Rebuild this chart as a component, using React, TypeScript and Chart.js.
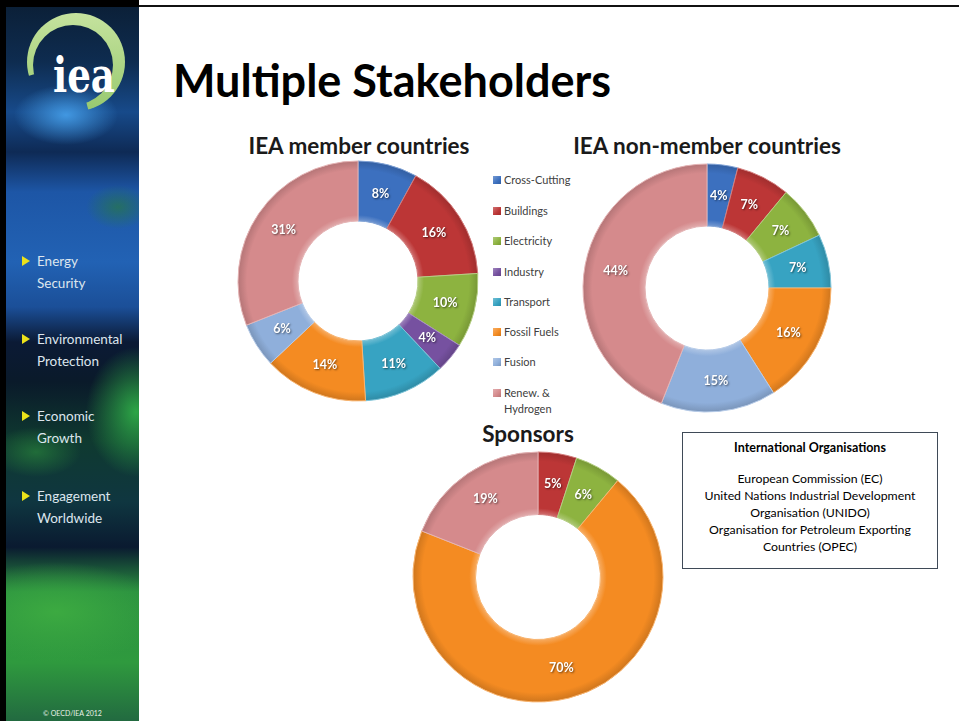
import React, { useEffect, useRef } from "react";
import { Chart, registerables } from "chart.js";
Chart.register(...registerables);

// ---------- data ----------
const categories = [
  "Cross-Cutting",
  "Buildings",
  "Electricity",
  "Industry",
  "Transport",
  "Fossil Fuels",
  "Fusion",
  "Renew. & Hydrogen",
];
const legendLines = [
  ["Cross-Cutting"],
  ["Buildings"],
  ["Electricity"],
  ["Industry"],
  ["Transport"],
  ["Fossil Fuels"],
  ["Fusion"],
  ["Renew. &", "Hydrogen"],
];
const categoryColors = [
  "#3c70bf",
  "#bc3636",
  "#8db340",
  "#7651a0",
  "#37a3c2",
  "#f48b22",
  "#8fafdb",
  "#d58a8c",
];
const memberValues = [8, 16, 10, 4, 11, 14, 6, 31];
const nonMemberValues = [4, 7, 7, 0, 7, 16, 15, 44];
const sponsorCategories = ["Buildings", "Electricity", "Fossil Fuels", "Renew. & Hydrogen"];
const sponsorValues = [5, 6, 70, 19];
const chartTitles = ["IEA member countries", "IEA non-member countries", "Sponsors"];
const slideTitle = "Multiple Stakeholders";
const sidebarItems = [
  ["Energy", "Security"],
  ["Environmental", "Protection"],
  ["Economic", "Growth"],
  ["Engagement", "Worldwide"],
];
const orgTitle = "International Organisations";
const orgLines = [
  "European Commission (EC)",
  "United Nations Industrial Development",
  "Organisation (UNIDO)",
  "Organisation for Petroleum Exporting",
  "Countries (OPEC)",
];
const copyright = "© OECD/IEA 2012";

// ---------- helpers ----------
function hexToRgb(h: string) {
  const n = parseInt(h.slice(1), 16);
  return [(n >> 16) & 255, (n >> 8) & 255, n & 255];
}
function mix(a: string, b: string, t: number) {
  const A = hexToRgb(a);
  const B = hexToRgb(b);
  const c = A.map((v, i) => Math.round(v + (B[i] - v) * t));
  return `rgb(${c[0]},${c[1]},${c[2]})`;
}

const labelPlugin = {
  id: "pctLabels",
  afterDatasetsDraw(chart: any) {
    const ctx = chart.ctx;
    const meta = chart.getDatasetMeta(0);
    const data = chart.data.datasets[0].data as number[];
    ctx.save();
    ctx.font = "bold 12.5px Lato";
    ctx.fillStyle = "#ffffff";
    ctx.textAlign = "center";
    ctx.textBaseline = "middle";
    ctx.shadowColor = "rgba(0,0,0,0.55)";
    ctx.shadowBlur = 2;
    ctx.shadowOffsetX = 1;
    ctx.shadowOffsetY = 1;
    meta.data.forEach((arc: any, i: number) => {
      const v = data[i];
      if (!v) return;
      const p = arc.tooltipPosition(false);
      ctx.fillText(v + "%", p.x, p.y);
    });
    ctx.restore();
  },
};

function Donut(props: { labels: string[]; values: number[]; cx: number; cy: number; r: number }) {
  const { labels, values, cx, cy, r } = props;
  const ref = useRef<HTMLCanvasElement>(null);
  const size = Math.ceil(r * 2 + 6);
  useEffect(() => {
    const colors = labels.map((l) => categoryColors[categories.indexOf(l)]);
    const chart = new Chart(ref.current as HTMLCanvasElement, {
      type: "doughnut",
      data: {
        labels,
        datasets: [
          {
            data: values,
            backgroundColor: (c: any) => {
              const base = colors[c.dataIndex];
              const area = c.chart.chartArea;
              if (!area) return base;
              const x = (area.left + area.right) / 2;
              const y = (area.top + area.bottom) / 2;
              const g = c.chart.ctx.createRadialGradient(x, y, r * 0.5, x, y, r);
              g.addColorStop(0, mix(base, "#ffffff", 0.28));
              g.addColorStop(0.1, base);
              g.addColorStop(0.85, base);
              g.addColorStop(1, mix(base, "#000000", 0.15));
              return g;
            },
            borderColor: colors.map((c) => mix(c, "#ffffff", 0.35)),
            borderWidth: values.map((v) => (v > 0 ? 1 : 0)),
          },
        ],
      },
      options: {
        responsive: false,
        animation: false,
        radius: r,
        cutout: "50%",
        events: [],
        layout: { padding: 0 },
        plugins: { legend: { display: false }, tooltip: { enabled: false } },
      } as any,
      plugins: [labelPlugin],
    });
    return () => chart.destroy();
  }, []);
  return (
    <canvas
      ref={ref}
      width={size}
      height={size}
      style={{ position: "absolute", left: cx - size / 2, top: cy - size / 2, width: size, height: size }}
    />
  );
}

const sidebarBg = [
  "radial-gradient(ellipse 52px 30px at 60px 108px, rgba(70,160,235,0.9), rgba(70,160,235,0))",
  "radial-gradient(ellipse 32px 22px at 112px 200px, rgba(40,120,70,0.7), rgba(40,120,70,0))",
  "radial-gradient(ellipse 50px 65px at 130px 405px, rgba(45,165,70,1), rgba(45,165,70,0))",
  "radial-gradient(ellipse 45px 25px at 30px 445px, rgba(40,130,60,0.7), rgba(40,130,60,0))",
  "radial-gradient(ellipse 110px 50px at 50px 605px, rgba(60,170,65,1), rgba(60,170,65,0))",
  "linear-gradient(180deg, #0b2038 0px, #0e2c50 55px, #174a8a 105px, #0e2a55 145px, #1d56a6 185px, #2262b4 255px, #1b4f98 300px, #0b1a35 335px, #0a1a2a 375px, #0f3a30 435px, #0f3640 495px, #0a1a30 540px, #2a9040 585px, #2f9a3e 655px, #226a40 714px)",
].join(",");

export default function App() {
  const font = "Lato, 'Open Sans', sans-serif";
  const legendY = [180, 211, 241, 272, 302, 332, 362, 393];
  const sideY = [261, 339, 416, 496];
  return (
    <div
      style={{
        position: "absolute",
        left: 0,
        top: 0,
        width: 959,
        height: 721,
        background: "#ffffff",
        overflow: "hidden",
        fontFamily: font,
      }}
    >
      {/* frame */}
      <div style={{ position: "absolute", left: 139, top: 5, width: 820, height: 2, background: "#111" }} />
      <div style={{ position: "absolute", left: 6, top: 7, width: 133, height: 714, background: sidebarBg }} />
      <div style={{ position: "absolute", left: 0, top: 0, width: 6, height: 721, background: "#000" }} />
      <div style={{ position: "absolute", left: 0, top: 0, width: 139, height: 7, background: "#000" }} />

      {/* logo */}
      <svg width={139} height={130} style={{ position: "absolute", left: 0, top: 0 }}>
        <defs>
          <linearGradient id="ringG" x1="0" y1="0" x2="0" y2="1">
            <stop offset="0" stopColor="#cbe6a4" />
            <stop offset="1" stopColor="#8fc466" />
          </linearGradient>
          <mask id="ringM">
            <circle cx={76} cy={62} r={49} fill="#fff" />
            <circle cx={73} cy={65} r={40} fill="#000" />
            <polygon points="76,62 96,140 -20,90" fill="#000" />
          </mask>
        </defs>
        <rect x={0} y={0} width={139} height={130} fill="url(#ringG)" mask="url(#ringM)" />
        <text
          x={84}
          y={92}
          textAnchor="middle"
          fontFamily="'DejaVu Serif', serif"
          fontWeight="bold"
          fontSize={48}
          fill="#ffffff"
          textLength={62}
          lengthAdjust="spacingAndGlyphs"
        >
          iea
        </text>
      </svg>

      {/* sidebar items */}
      {sidebarItems.map((lines, i) => (
        <React.Fragment key={i}>
          <div
            style={{
              position: "absolute",
              left: 22,
              top: sideY[i] - 5,
              width: 0,
              height: 0,
              borderLeft: "8px solid #ece21a",
              borderTop: "5px solid transparent",
              borderBottom: "5px solid transparent",
            }}
          />
          {lines.map((t, j) => (
            <div
              key={j}
              style={{
                position: "absolute",
                left: 37,
                top: sideY[i] + j * 22 - 9,
                height: 18,
                lineHeight: "18px",
                fontSize: 13.5,
                color: "#dde6ee",
                whiteSpace: "nowrap",
              }}
            >
              {t}
            </div>
          ))}
        </React.Fragment>
      ))}
      <div
        style={{
          position: "absolute",
          left: 6,
          width: 133,
          top: 708,
          textAlign: "center",
          fontSize: 7,
          lineHeight: "10px",
          color: "#e8f0e8",
        }}
      >
        {copyright}
      </div>

      {/* slide title */}
      <div
        style={{
          position: "absolute",
          left: 173,
          top: 53,
          fontSize: 45,
          lineHeight: "54px",
          fontWeight: 700,
          color: "#000",
          whiteSpace: "nowrap",
        }}
      >
        {slideTitle}
      </div>

      {/* chart titles */}
      {[
        [359, 147],
        [707, 147],
        [528, 435],
      ].map(([x, y], i) => (
        <div
          key={i}
          style={{
            position: "absolute",
            left: x - 200,
            width: 400,
            top: y - 14,
            height: 26,
            lineHeight: "26px",
            textAlign: "center",
            fontSize: 22.5,
            fontWeight: 700,
            color: "#1a1a1a",
            whiteSpace: "nowrap",
          }}
        >
          {chartTitles[i]}
        </div>
      ))}

      <Donut labels={categories} values={memberValues} cx={358} cy={281} r={120} />
      <Donut labels={categories} values={nonMemberValues} cx={707} cy={288} r={124} />
      <Donut labels={sponsorCategories} values={sponsorValues} cx={538} cy={577} r={125} />

      {/* legend */}
      {legendLines.map((lines, i) => (
        <React.Fragment key={i}>
          <div
            style={{
              position: "absolute",
              left: 493,
              top: legendY[i] - 4,
              width: 8,
              height: 8,
              background: `linear-gradient(135deg, ${mix(categoryColors[i], "#ffffff", 0.3)}, ${categoryColors[i]} 60%, ${mix(
                categoryColors[i],
                "#000000",
                0.15
              )})`,
            }}
          />
          {lines.map((t, j) => (
            <div
              key={j}
              style={{
                position: "absolute",
                left: 504,
                top: legendY[i] + j * 16 - 8,
                height: 16,
                lineHeight: "16px",
                fontSize: 11,
                color: "#404040",
                whiteSpace: "nowrap",
              }}
            >
              {t}
            </div>
          ))}
        </React.Fragment>
      ))}

      {/* organisations box */}
      <div
        style={{
          position: "absolute",
          left: 682,
          top: 432,
          width: 254,
          height: 129,
          border: "1px solid #3f4a57",
          textAlign: "center",
          fontSize: 12.3,
          color: "#000",
          paddingTop: 6,
          boxSizing: "content-box",
        }}
      >
        <div style={{ fontWeight: 700, fontSize: 12.5, lineHeight: "17px", marginBottom: 14 }}>{orgTitle}</div>
        {orgLines.map((t, i) => (
          <div key={i} style={{ lineHeight: "17px", whiteSpace: "nowrap" }}>
            {t}
          </div>
        ))}
      </div>
    </div>
  );
}
